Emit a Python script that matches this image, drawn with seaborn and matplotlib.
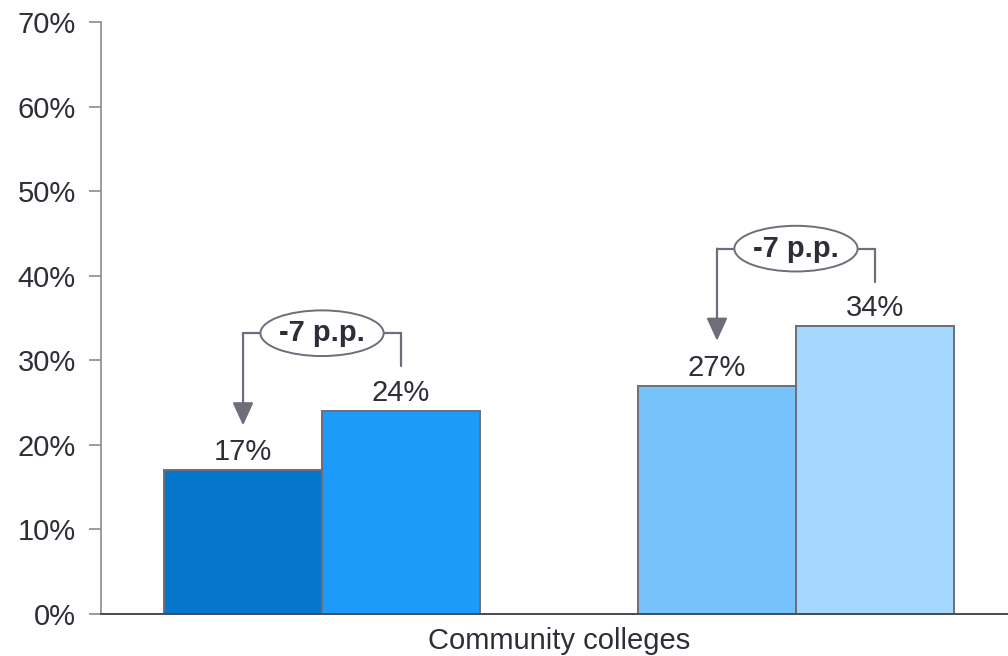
import matplotlib
matplotlib.use("Agg")
import matplotlib.pyplot as plt
from matplotlib.patches import Ellipse
from matplotlib.ticker import PercentFormatter
import seaborn as sns
import pandas as pd

# Bar data (percent)
bar_keys = ["g1_a", "g1_b", "g2_a", "g2_b"]
bar_values = [17, 24, 27, 34]
bar_positions = [0, 1, 3, 4]
bar_colors = ["#0477CC", "#1C9BFA", "#76C2FB", "#A5D7FC"]
value_labels = ["17%", "24%", "27%", "34%"]

# Differences between paired bars
pairs = [(0, 1), (2, 3)]
diff_labels = ["-7 p.p.", "-7 p.p."]

category_label = "Community colleges"
y_ticks = [0, 10, 20, 30, 40, 50, 60, 70]

sns.set_theme(style="white")
plt.rcParams["font.family"] = ["Liberation Sans", "DejaVu Sans"]

text_color = "#2E2E38"
line_color = "#6E6E7A"
fs = 21

df = pd.DataFrame({"key": bar_keys, "pos": bar_positions, "value": bar_values})

fig = plt.figure(figsize=(10.08, 6.56), dpi=100)
ax = fig.add_axes([101 / 1008, 42 / 656, 907 / 1008, 592 / 656])

sns.barplot(
    data=df, x="pos", y="value", hue="key", palette=bar_colors,
    native_scale=True, width=1.0, dodge=False, legend=False, saturation=1,
    edgecolor=line_color, linewidth=1.4, ax=ax,
)

ax.set_xlim(-0.899, 4.842)
ax.set_ylim(0, 70)
ax.set_yticks(y_ticks)
ax.yaxis.set_major_formatter(PercentFormatter(decimals=0))
ax.set_xticks([2])
ax.set_xticklabels([category_label])
ax.set_xlabel("")
ax.set_ylabel("")

ax.tick_params(axis="y", length=9, width=1.2, color="#8A8A94", pad=9,
               labelsize=fs, labelcolor=text_color, left=True)
ax.tick_params(axis="x", length=0, pad=9.5, labelsize=fs, labelcolor=text_color)

for side in ["top", "right"]:
    ax.spines[side].set_visible(False)
ax.spines["left"].set_color("#8A8A94")
ax.spines["left"].set_linewidth(1.2)
ax.spines["bottom"].set_color("#4A4A55")
ax.spines["bottom"].set_linewidth(1.4)

# Value labels above bars
for x, v, lab in zip(bar_positions, bar_values, value_labels):
    ax.text(x, v + 1.2, lab, ha="center", va="baseline", fontsize=fs, color=text_color)

# Bracket connectors with difference callouts
for (i, j), lab in zip(pairs, diff_labels):
    xi, xj = bar_positions[i], bar_positions[j]
    vi, vj = bar_values[i], bar_values[j]
    top = max(vi, vj) + 9.2
    ax.plot([xj, xj, xi], [vj + 5.3, top, top], color=line_color, lw=1.6,
            solid_joinstyle="miter", zorder=4)
    ax.annotate("", xy=(xi, vi + 5.3), xytext=(xi, top),
                arrowprops=dict(arrowstyle="-|>,head_length=0.7,head_width=0.32",
                                color=line_color, lw=1.6, mutation_scale=20,
                                shrinkA=0, shrinkB=0),
                zorder=4)
    cx = (xi + xj) / 2
    ax.add_patch(Ellipse((cx, top), width=0.78, height=5.4, facecolor="white",
                         edgecolor=line_color, lw=1.4, zorder=5))
    ax.text(cx, top, lab, ha="center", va="center", fontsize=fs,
            fontweight="bold", color=text_color, zorder=6)

fig.savefig("out.png", dpi=100)
